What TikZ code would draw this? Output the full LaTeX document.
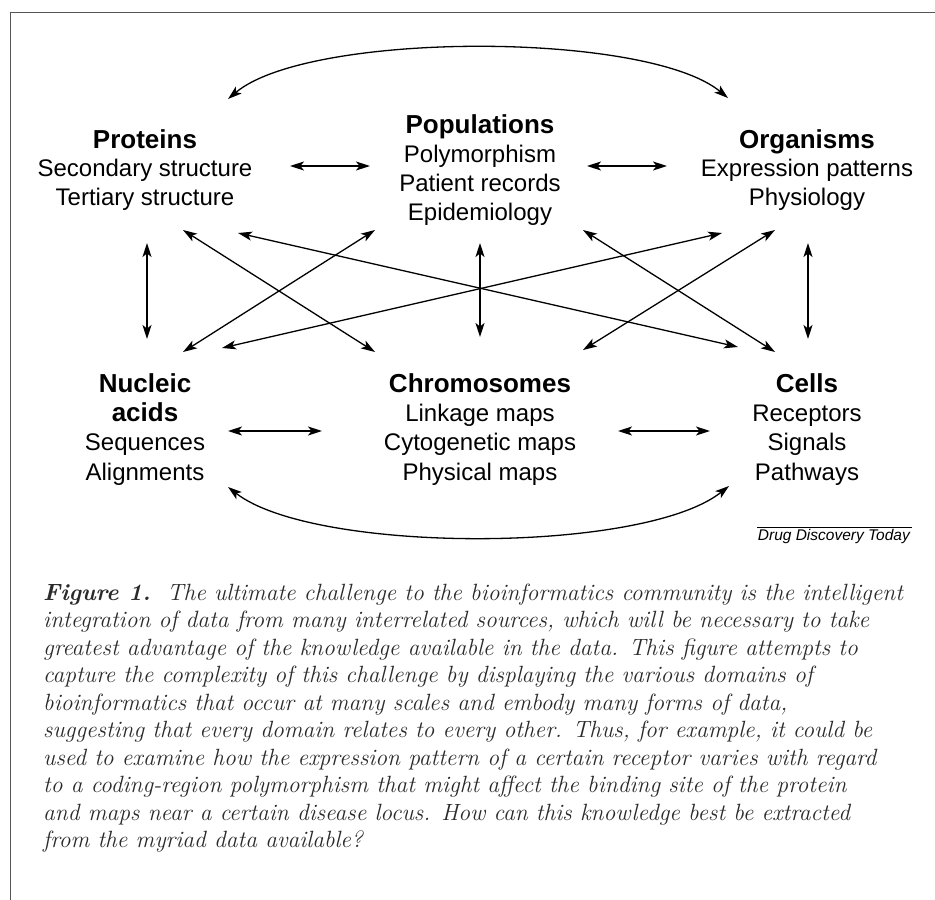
\documentclass[tikz,border=0pt]{standalone}
\usepackage{fontspec}
\newfontfamily\arialf{Liberation Sans}
\usetikzlibrary{arrows.meta}
\definecolor{framegray}{HTML}{555555}
\definecolor{captext}{HTML}{2A2A2A}
\tikzset{
  lbl/.style={font=\arialf\fontsize{24}{29}\selectfont, anchor=base, inner sep=0pt},
  ttl/.style={font=\arialf\bfseries\fontsize{26}{29}\selectfont, anchor=base, inner sep=0pt},
  tip/.tip={Stealth[length=14pt,width=9pt,inset=3.5pt]},
  link/.style={line width=1.3pt, tip-tip},
  capline/.style={font=\itshape\fontsize{23.5}{27.5}\selectfont, text=captext, anchor=base west, inner sep=0pt},
  ddtstyle/.style={font=\arialf\itshape\fontsize{15.5}{18}\selectfont, anchor=base east, inner sep=0pt}
}
\begin{document}
\begin{tikzpicture}[x=1pt,y=-1pt]
\useasboundingbox (0,0) rectangle (935,900);
% frame
\draw[framegray, line width=1pt] (935,12) -- (10,12) -- (10,900);

% Proteins
\node[ttl] (prot) at (145,148.3) {Proteins};
\node[lbl] (prot1) at (145,176.6) {Secondary structure};
\node[lbl] (prot2) at (145,205.6) {Tertiary structure};
% Populations
\node[ttl] (pop) at (480,133.8) {Populations};
\node[lbl] (pop1) at (480,162.1) {Polymorphism};
\node[lbl] (pop2) at (480,191.1) {Patient records};
\node[lbl] (pop3) at (480,220.1) {Epidemiology};
% Organisms
\node[ttl] (org) at (807,148.3) {Organisms};
\node[lbl] (org1) at (807,176.6) {Expression patterns};
\node[lbl] (org2) at (807,205.6) {Physiology};
% Nucleic acids
\node[ttl] (nuc) at (145,392.3) {Nucleic};
\node[ttl] (nuc0) at (145,421.1) {acids};
\node[lbl] (nuc1) at (145,450.6) {Sequences};
\node[lbl] (nuc2) at (145,480.1) {Alignments};
% Chromosomes
\node[ttl] (chr) at (480,392.3) {Chromosomes};
\node[lbl] (chr1) at (480,421.1) {Linkage maps};
\node[lbl] (chr2) at (480,450.6) {Cytogenetic maps};
\node[lbl] (chr3) at (480,480.1) {Physical maps};
% Cells
\node[ttl] (cel) at (807,392.3) {Cells};
\node[lbl] (cel1) at (807,421.1) {Receptors};
\node[lbl] (cel2) at (807,450.6) {Signals};
\node[lbl] (cel3) at (807,480.1) {Pathways};

% arrow end points
\coordinate (h1a) at (290,166); \coordinate (h1b) at (370,166);
\coordinate (h2a) at (587,166); \coordinate (h2b) at (667,166);
\coordinate (h3a) at (228,431); \coordinate (h3b) at (322,431);
\coordinate (h4a) at (618,431); \coordinate (h4b) at (710,431);
\coordinate (v1a) at (147,243); \coordinate (v1b) at (147,339);
\coordinate (v2a) at (480,243); \coordinate (v2b) at (480,337);
\coordinate (v3a) at (808,243); \coordinate (v3b) at (808,339);
\coordinate (pc1) at (183,230); \coordinate (pc2) at (375,352);
\coordinate (pl1) at (238,233); \coordinate (pl2) at (738,347);
\coordinate (qn1) at (375,230); \coordinate (qn2) at (183,352);
\coordinate (no1) at (222,348); \coordinate (no2) at (722,233);
\coordinate (ql1) at (583,230); \coordinate (ql2) at (775,352);
\coordinate (oc1) at (775,230); \coordinate (oc2) at (583,350);
\coordinate (ta) at (228,99); \coordinate (tb) at (728,98);
\coordinate (ba) at (228,487); \coordinate (bb) at (729,486);

\draw[link] (h1a) -- (h1b);
\draw[link] (h2a) -- (h2b);
\draw[link] (h3a) -- (h3b);
\draw[link] (h4a) -- (h4b);
\draw[link] (v1a) -- (v1b);
\draw[link] (v2a) -- (v2b);
\draw[link] (v3a) -- (v3b);
\draw[link] (pc1) -- (pc2);
\draw[link] (pl1) -- (pl2);
\draw[link] (qn1) -- (qn2);
\draw[link] (no1) -- (no2);
\draw[link] (ql1) -- (ql2);
\draw[link] (oc1) -- (oc2);
\draw[link] (ta) .. controls (309,31) and (647,31) .. (tb);
\draw[link] (ba) .. controls (314,554) and (643,554) .. (bb);

% source label
\node[ddtstyle] (ddt) at (910,540) {Drug Discovery Today};
\draw[line width=0.8pt] (757,527) -- (912,527);

% caption
\node[capline] (c1) at (43,600) {\textbf{Figure 1.}\ \ The ultimate challenge to the bioinformatics community is the intelligent};
\node[capline] (c2) at (43,627.5) {integration of data from many interrelated sources, which will be necessary to take};
\node[capline] (c3) at (43,655) {greatest advantage of the knowledge available in the data. This figure attempts to};
\node[capline] (c4) at (43,682.5) {capture the complexity of this challenge by displaying the various domains of};
\node[capline] (c5) at (43,710) {bioinformatics that occur at many scales and embody many forms of data,};
\node[capline] (c6) at (43,737.5) {suggesting that every domain relates to every other. Thus, for example, it could be};
\node[capline] (c7) at (43,765) {used to examine how the expression pattern of a certain receptor varies with regard};
\node[capline] (c8) at (43,792.5) {to a coding-region polymorphism that might affect the binding site of the protein};
\node[capline] (c9) at (43,820) {and maps near a certain disease locus. How can this knowledge best be extracted};
\node[capline] (c10) at (43,847.5) {from the myriad data available?};
\end{tikzpicture}
\end{document}
